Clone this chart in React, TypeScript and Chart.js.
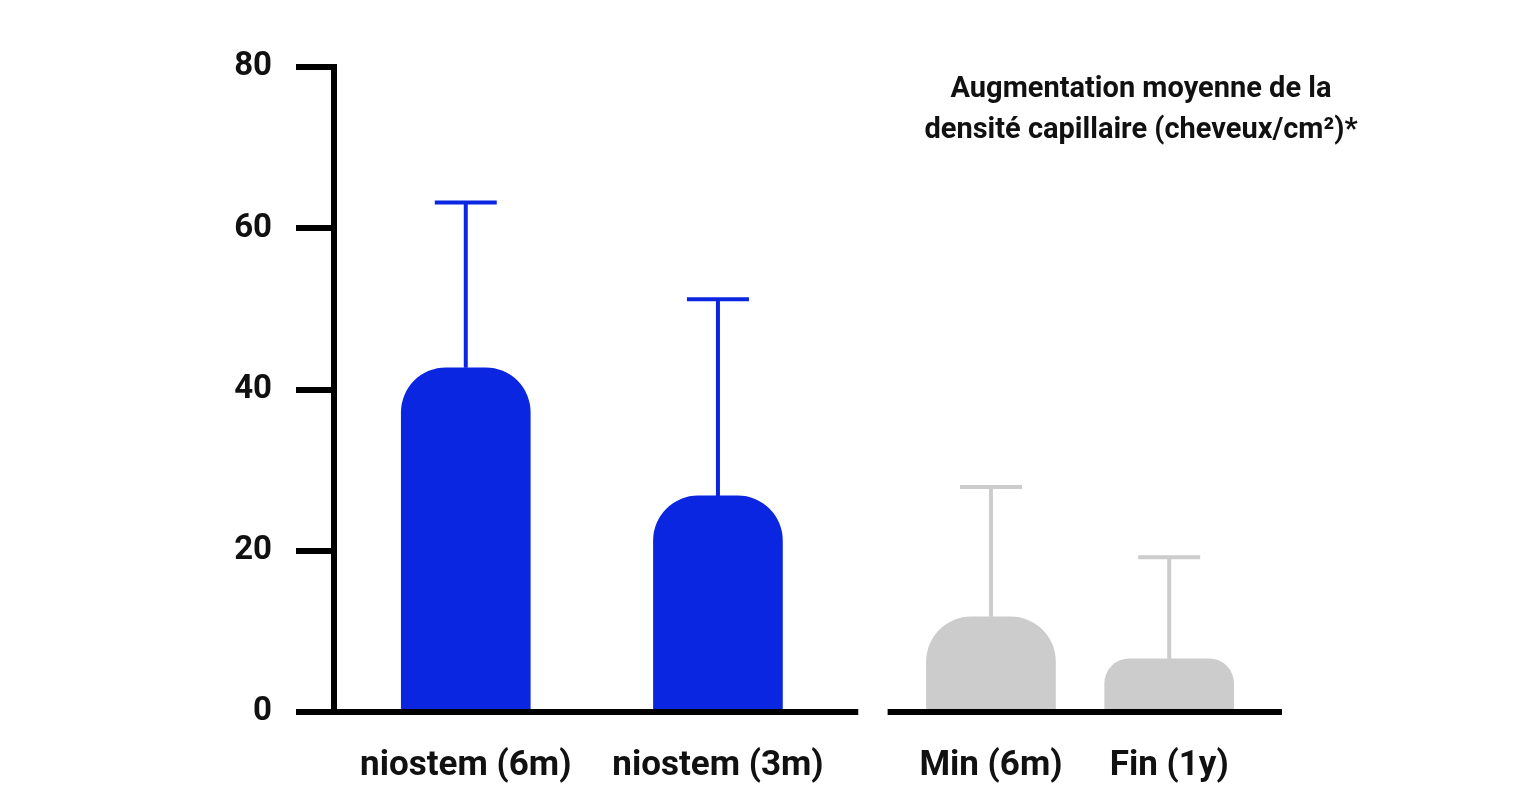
import React, { useEffect, useRef } from "react";
import { Chart, registerables } from "chart.js";

Chart.register(...registerables);

// ---- data ----
const categories = ["niostem (6m)", "niostem (3m)", "Min (6m)", "Fin (1y)"];
const meanIncrease = [42.7, 26.8, 11.8, 6.6];
const errorUpper = [20.5, 24.4, 16.1, 12.6];
const yTicks = [0, 20, 40, 60, 80];
const titleLines = ["Augmentation moyenne de la", "densité capillaire (cheveux/cm²)*"];

// ---- layout (x axis units, 0..100) ----
const slotPositions = [13.9, 40.5, 69.3, 88.1];
const axisBreak = [55.3, 58.4];

// ---- styles ----
const BLUE = "#0a26e0";
const GRAY = "#cccccc";
const barColors = [BLUE, BLUE, GRAY, GRAY];
const FONT = "Roboto";

const errorBarPlugin = {
  id: "errorBars",
  afterDatasetsDraw(chart: any) {
    const meta = chart.getDatasetMeta(0);
    const y = chart.scales.y;
    const ctx = chart.ctx;
    ctx.save();
    meta.data.forEach((bar: any, i: number) => {
      const top = y.getPixelForValue(meanIncrease[i] + errorUpper[i]);
      ctx.strokeStyle = barColors[i];
      ctx.lineWidth = 4;
      ctx.lineCap = "butt";
      ctx.beginPath();
      ctx.moveTo(bar.x, bar.y);
      ctx.lineTo(bar.x, top);
      ctx.moveTo(bar.x - 31, top);
      ctx.lineTo(bar.x + 31, top);
      ctx.stroke();
    });
    ctx.restore();
  },
};

const brokenAxisPlugin = {
  id: "brokenAxis",
  afterDatasetsDraw(chart: any) {
    const { ctx, chartArea } = chart;
    const x = chart.scales.x;
    const y0 = chart.scales.y.getPixelForValue(0);
    ctx.save();
    ctx.strokeStyle = "#000";
    ctx.lineWidth = 6;
    ctx.beginPath();
    ctx.moveTo(chartArea.left - 32, y0);
    ctx.lineTo(x.getPixelForValue(axisBreak[0]), y0);
    ctx.moveTo(x.getPixelForValue(axisBreak[1]), y0);
    ctx.lineTo(chartArea.right, y0);
    ctx.stroke();
    ctx.restore();
  },
};

const titlePlugin = {
  id: "cornerTitle",
  afterDraw(chart: any) {
    const { ctx, chartArea } = chart;
    ctx.save();
    ctx.fillStyle = "#111";
    ctx.font = `bold 29px ${FONT}`;
    ctx.textAlign = "center";
    ctx.textBaseline = "middle";
    const cx = chartArea.right - 141;
    titleLines.forEach((line, i) => {
      ctx.fillText(line, cx, chartArea.top + 23 + i * 41);
    });
    ctx.restore();
  },
};

export default function App() {
  const canvasRef = useRef<HTMLCanvasElement | null>(null);

  useEffect(() => {
    const canvas = canvasRef.current;
    if (!canvas) return;
    const chart = new Chart(canvas, {
      type: "bar",
      data: {
        datasets: [
          {
            data: meanIncrease.map((v, i) => ({ x: slotPositions[i], y: v })),
            backgroundColor: barColors,
            borderWidth: 0,
            barThickness: 129,
            borderRadius: { topLeft: 45, topRight: 45, bottomLeft: 0, bottomRight: 0 },
            borderSkipped: "start",
          },
        ],
      },
      options: {
        animation: false,
        responsive: true,
        maintainAspectRatio: false,
        layout: { padding: { top: 67, right: 254, bottom: 0, left: 0 } },
        plugins: {
          legend: { display: false },
          tooltip: { enabled: false },
          title: { display: false },
        },
        scales: {
          x: {
            type: "linear",
            min: 0,
            max: 100,
            offset: false,
            afterBuildTicks: (s: any) => {
              s.ticks = slotPositions.map((v) => ({ value: v }));
            },
            afterFit: (s: any) => {
              s.height = 94;
            },
            ticks: {
              callback: (_v: any, i: number) => categories[i],
              font: { family: FONT, weight: "bold", size: 35 },
              color: "#111",
              padding: 33,
              autoSkip: false,
              maxRotation: 0,
              minRotation: 0,
            },
            grid: { display: false, drawTicks: false },
            border: { display: false },
          },
          y: {
            type: "linear",
            min: 0,
            max: 80,
            afterBuildTicks: (s: any) => {
              s.ticks = yTicks.map((v) => ({ value: v }));
            },
            afterFit: (s: any) => {
              s.width = 334;
            },
            ticks: {
              font: { family: FONT, weight: "bold", size: 33 },
              color: "#111",
              padding: 24,
            },
            grid: {
              drawOnChartArea: false,
              drawTicks: true,
              tickLength: 38,
              lineWidth: 6,
              tickWidth: 6,
              color: "#000",
              tickColor: "#000",
            },
            border: { display: true, width: 6, color: "#000" },
          },
        },
      },
      plugins: [errorBarPlugin, brokenAxisPlugin, titlePlugin],
    } as any);
    return () => chart.destroy();
  }, []);

  return (
    <div style={{ position: "fixed", left: 0, top: 0, width: 1536, height: 806, background: "#fff" }}>
      <canvas ref={canvasRef} />
    </div>
  );
}
